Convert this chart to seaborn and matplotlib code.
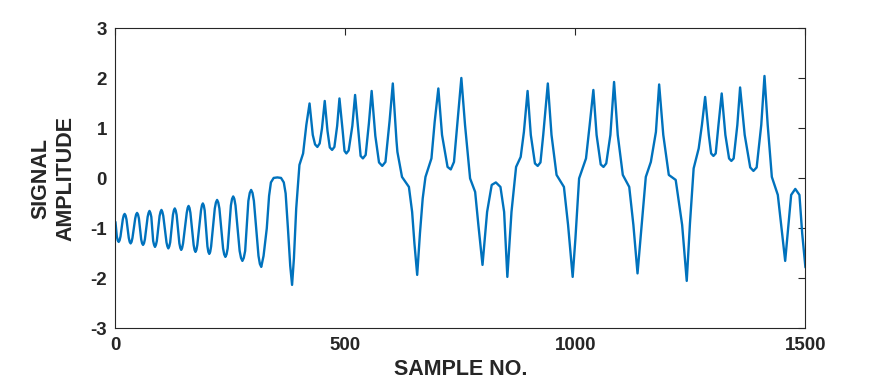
import seaborn as sns
import matplotlib.pyplot as plt

# points (sample no., amplitude), incl. points on the flanks
sample_no = [0, 3, 5, 7, 9, 11, 16, 18, 20, 22, 24, 29, 31, 33, 35, 37,
             43, 45, 47, 49, 51, 56, 58, 60, 62, 64, 70, 72, 74, 76, 78,
             82, 84, 86, 88, 90, 96, 98, 100, 102, 104, 111, 113, 115, 117, 119,
             125, 127, 129, 131, 133, 139, 141, 143, 145, 147,
             155, 157, 159, 161, 163, 170, 172, 174, 176, 178,
             186, 188, 190, 192, 194, 200, 202, 204, 206, 208,
             216, 218.5, 221, 223.5, 226, 234, 236.5, 239, 241.5, 244,
             251, 253.5, 256, 258.5, 261, 270, 273, 276, 279, 282,
             289, 292, 295, 298, 301, 311, 314, 317, 322,
             329, 334, 338, 344, 352, 360, 366, 370, 375, 380, 384, 388, 393,
             400, 408, 415, 422, 429, 434, 439, 444, 449, 455, 461, 466, 471, 476,
             482, 487, 494, 498, 502, 507, 515, 521, 528, 533, 538, 544, 551, 557,
             565, 573, 580, 587, 596, 603, 611, 613, 623, 638, 645, 650, 656,
             662, 668, 674, 687, 694, 702, 710, 722, 729, 736, 743, 752,
             760, 771, 782, 789, 798, 808, 818, 827, 837, 845, 852,
             861, 871, 881, 888, 896, 903, 912, 918, 924, 930, 940, 948,
             959, 975, 984, 994, 1000, 1008, 1023, 1031, 1039, 1046, 1055, 1061,
             1067, 1076, 1084, 1092, 1103, 1117, 1126, 1135, 1144, 1153, 1164,
             1175, 1182, 1191, 1203, 1218, 1232, 1242, 1249, 1257, 1268, 1275,
             1282, 1290, 1295, 1300, 1305, 1311, 1318, 1326, 1334, 1339, 1344,
             1352, 1358, 1368, 1380, 1387, 1394, 1404, 1411, 1418, 1427, 1440,
             1449, 1456, 1463, 1469, 1478, 1487, 1493, 1500]
amplitude = [-0.87, -1.16, -1.24, -1.27, -1.24, -1.16, -0.82, -0.74, -0.71, -0.74,
             -0.82, -1.19, -1.27, -1.30, -1.27, -1.19,
             -0.80, -0.72, -0.69, -0.72, -0.80, -1.22, -1.30, -1.33, -1.30, -1.22,
             -0.77, -0.69, -0.65, -0.69, -0.77,
             -1.25, -1.33, -1.37, -1.33, -1.25, -0.75, -0.67, -0.63, -0.67, -0.75,
             -1.28, -1.36, -1.40, -1.36, -1.28,
             -0.73, -0.64, -0.60, -0.64, -0.73, -1.30, -1.39, -1.43, -1.39, -1.30,
             -0.69, -0.59, -0.55, -0.59, -0.69, -1.33, -1.43, -1.47, -1.43, -1.33,
             -0.64, -0.54, -0.50, -0.54, -0.64, -1.36, -1.47, -1.51, -1.47, -1.36,
             -0.60, -0.48, -0.43, -0.48, -0.60, -1.40, -1.52, -1.57, -1.52, -1.40,
             -0.54, -0.41, -0.36, -0.41, -0.54, -1.45, -1.59, -1.65, -1.59, -1.45,
             -0.45, -0.29, -0.23, -0.29, -0.45, -1.55, -1.71, -1.77, -1.55,
             -1.00, -0.35, -0.08, 0.01, 0.02, 0.01, -0.08, -0.30, -1.00, -1.75,
             -2.13, -1.60, -0.60,
             0.27, 0.50, 1.07, 1.50, 0.87, 0.68, 0.63, 0.70, 1.00, 1.55, 0.95,
             0.62, 0.57, 0.63,
             1.05, 1.60, 0.95, 0.55, 0.50, 0.56, 1.05, 1.67, 0.95, 0.45, 0.40,
             0.47, 1.10, 1.75,
             0.85, 0.32, 0.25, 0.33, 1.15, 1.90, 0.75, 0.53, 0.03, -0.17, -0.67,
             -1.30, -1.93,
             -1.10, -0.40, 0.03, 0.40, 1.13, 1.80, 0.87, 0.23, 0.18, 0.33, 1.07,
             2.01,
             1.07, 0.00, -0.27, -0.93, -1.73, -0.67, -0.13, -0.08, -0.17, -0.67,
             -1.97,
             -0.67, 0.23, 0.43, 0.93, 1.75, 0.87, 0.30, 0.25, 0.32, 0.87, 1.90,
             0.87,
             0.07, -0.17, -0.93, -1.97, -1.20, 0.00, 0.40, 1.07, 1.77, 0.87, 0.28,
             0.23,
             0.30, 0.87, 1.93, 0.87, 0.07, -0.17, -0.93, -1.90, -0.93, 0.03, 0.33,
             0.93, 1.88, 0.87, 0.07, -0.03, -0.93, -2.05, -0.90, 0.20, 0.60, 1.07,
             1.63, 0.87, 0.50, 0.45, 0.50, 1.07, 1.70, 0.87, 0.40, 0.35, 0.40,
             1.07, 1.82, 0.87, 0.22, 0.15, 0.22, 1.07, 2.05, 1.07, 0.03, -0.33,
             -1.07, -1.65, -0.93, -0.33, -0.21, -0.33, -1.10, -1.78]

xticks = [0, 500, 1000, 1500]
yticks = [-3, -2, -1, 0, 1, 2, 3]

sns.set_style("white")
plt.rcParams['font.family'] = ['Liberation Sans', 'DejaVu Sans']
plt.rcParams['axes.unicode_minus'] = False

fig = plt.figure(figsize=(8.88, 3.9), dpi=100)
ax = fig.add_axes([0.130, 0.158, 0.777, 0.769])

sns.lineplot(x=sample_no, y=amplitude, color="#0072BD", linewidth=1.7, ax=ax)
ax.lines[0].set_solid_joinstyle("round")

ax.set_xlim(0, 1500)
ax.set_ylim(-3, 3)
ax.set_xticks(xticks)
ax.set_yticks(yticks)
ax.tick_params(direction="in", top=True, right=True, length=5, width=0.8,
               colors="#262626", labelsize=13.5, pad=6)
for lab in ax.get_xticklabels() + ax.get_yticklabels():
    lab.set_fontweight("bold")
for sp in ax.spines.values():
    sp.set_color("#262626")
    sp.set_linewidth(0.8)

ax.set_xlabel("SAMPLE NO.", fontsize=15.5, fontweight="bold", color="#262626")
ax.set_ylabel("SIGNAL\nAMPLITUDE", fontsize=15.5, fontweight="bold", color="#262626",
              multialignment="center")
ax.yaxis.set_label_coords(-0.057, 0.5)

plt.savefig("out.png", dpi=100)
